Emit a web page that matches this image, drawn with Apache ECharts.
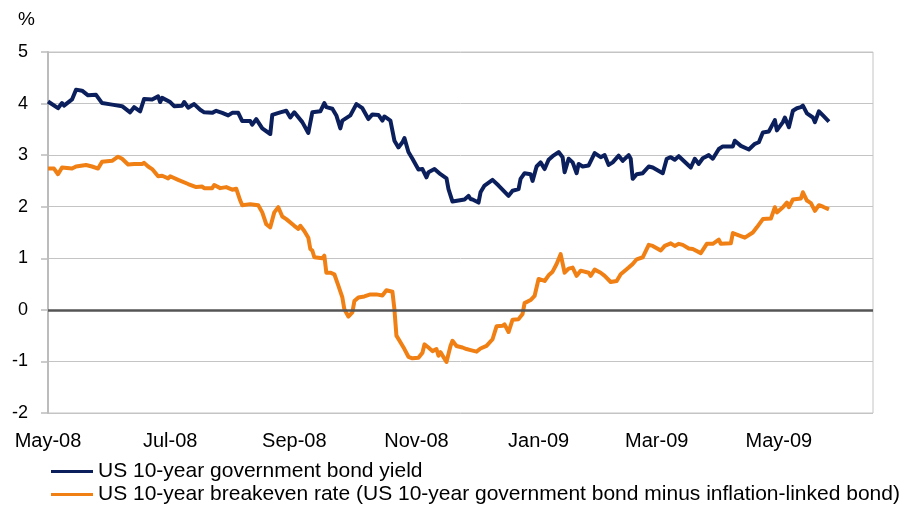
<!DOCTYPE html>
<html>
<head>
<meta charset="utf-8">
<script src="https://cdn.jsdelivr.net/npm/echarts@6/dist/echarts.min.js"></script>
<style>
  html, body { margin: 0; padding: 0; background: #fff; }
  #chart { width: 913px; height: 507px; }
</style>
</head>
<body>
<div id="chart"></div>
<script>
// US 10-year government bond yield, %
const yieldDates = [
  '2008-05-01','2008-05-06','2008-05-08','2008-05-09','2008-05-13','2008-05-15','2008-05-18','2008-05-21',
  '2008-05-25','2008-05-28','2008-06-02','2008-06-07','2008-06-11','2008-06-13','2008-06-16','2008-06-18',
  '2008-06-22','2008-06-25','2008-06-26','2008-06-27','2008-07-01','2008-07-03','2008-07-07','2008-07-08',
  '2008-07-10','2008-07-13','2008-07-16','2008-07-18','2008-07-22','2008-07-24','2008-07-27','2008-07-30',
  '2008-08-01','2008-08-04','2008-08-06','2008-08-10','2008-08-11','2008-08-13','2008-08-16','2008-08-20',
  '2008-08-21','2008-08-25','2008-08-28','2008-08-30','2008-09-01','2008-09-05','2008-09-08','2008-09-10',
  '2008-09-14','2008-09-16','2008-09-17','2008-09-20','2008-09-22','2008-09-24','2008-09-25','2008-09-29',
  '2008-10-02','2008-10-05','2008-10-08','2008-10-10','2008-10-13','2008-10-15','2008-10-16','2008-10-19',
  '2008-10-21','2008-10-23','2008-10-25','2008-10-26','2008-10-28','2008-10-30','2008-11-02','2008-11-04',
  '2008-11-06','2008-11-07','2008-11-10','2008-11-13','2008-11-16','2008-11-17','2008-11-19','2008-11-22',
  '2008-11-25','2008-11-27','2008-11-28','2008-11-29','2008-12-02','2008-12-03','2008-12-05','2008-12-09',
  '2008-12-12','2008-12-17','2008-12-19','2008-12-22','2008-12-23','2008-12-25','2008-12-28','2008-12-29',
  '2008-12-31','2009-01-02','2009-01-04','2009-01-06','2009-01-08','2009-01-11','2009-01-13','2009-01-14',
  '2009-01-16','2009-01-18','2009-01-20','2009-01-21','2009-01-23','2009-01-26','2009-01-29','2009-02-01',
  '2009-02-03','2009-02-05','2009-02-07','2009-02-10','2009-02-12','2009-02-15','2009-02-16','2009-02-17',
  '2009-02-19','2009-02-22','2009-02-25','2009-02-27','2009-03-04','2009-03-06','2009-03-08','2009-03-10',
  '2009-03-12','2009-03-18','2009-03-20','2009-03-22','2009-03-24','2009-03-27','2009-03-29','2009-04-01',
  '2009-04-03','2009-04-08','2009-04-09','2009-04-12','2009-04-16','2009-04-19','2009-04-21','2009-04-23',
  '2009-04-26','2009-04-29','2009-04-30','2009-05-03','2009-05-04','2009-05-06','2009-05-08','2009-05-10',
  '2009-05-12','2009-05-13','2009-05-15','2009-05-18','2009-05-19','2009-05-21','2009-05-23','2009-05-26'
];
const yieldValues = [
  4.04, 3.91, 4.01, 3.96, 4.08, 4.27, 4.25, 4.16,
  4.17, 4.01, 3.98, 3.95, 3.83, 3.93, 3.85, 4.09,
  4.08, 4.14, 4.03, 4.11, 4.03, 3.95, 3.96, 4.03,
  3.92, 3.99, 3.88, 3.83, 3.82, 3.86, 3.82, 3.77,
  3.82, 3.82, 3.66, 3.66, 3.59, 3.70, 3.52, 3.41,
  3.78, 3.83, 3.86, 3.73, 3.83, 3.64, 3.43, 3.83,
  3.85, 4.01, 3.93, 3.90, 3.77, 3.52, 3.67, 3.77,
  3.99, 3.91, 3.70, 3.79, 3.78, 3.67, 3.75, 3.67,
  3.28, 3.15, 3.25, 3.33, 3.06, 2.93, 2.72, 2.73,
  2.57, 2.67, 2.73, 2.63, 2.55, 2.34, 2.10, 2.12,
  2.14, 2.21, 2.15, 2.14, 2.08, 2.28, 2.41, 2.52,
  2.41, 2.21, 2.31, 2.34, 2.54, 2.65, 2.63, 2.50,
  2.78, 2.86, 2.73, 2.91, 2.98, 3.06, 2.96, 2.67,
  2.93, 2.86, 2.65, 2.83, 2.78, 2.80, 3.04, 2.96,
  3.00, 2.81, 2.86, 2.99, 2.89, 3.00, 2.93, 2.54,
  2.63, 2.65, 2.78, 2.76, 2.65, 2.93, 2.96, 2.91,
  2.98, 2.76, 2.93, 2.83, 2.94, 3.00, 2.93, 3.12,
  3.17, 3.17, 3.28, 3.18, 3.11, 3.22, 3.25, 3.44,
  3.46, 3.68, 3.48, 3.64, 3.73, 3.54, 3.86, 3.91,
  3.93, 3.96, 3.81, 3.73, 3.64, 3.85, 3.77, 3.65
];

// US 10-year breakeven rate, %
const breakevenDates = [
  '2008-05-01','2008-05-04','2008-05-06','2008-05-08','2008-05-13','2008-05-15','2008-05-20','2008-05-23',
  '2008-05-26','2008-05-28','2008-06-02','2008-06-05','2008-06-07','2008-06-10','2008-06-13','2008-06-17',
  '2008-06-18','2008-06-20','2008-06-22','2008-06-25','2008-06-27','2008-06-30','2008-07-01','2008-07-05',
  '2008-07-10','2008-07-14','2008-07-17','2008-07-18','2008-07-22','2008-07-23','2008-07-26','2008-07-29',
  '2008-08-01','2008-08-03','2008-08-05','2008-08-06','2008-08-10','2008-08-12','2008-08-14','2008-08-16',
  '2008-08-18','2008-08-20','2008-08-22','2008-08-24','2008-08-26','2008-08-28','2008-09-01','2008-09-03',
  '2008-09-04','2008-09-06','2008-09-08','2008-09-09','2008-09-10','2008-09-11','2008-09-15','2008-09-16',
  '2008-09-17','2008-09-19','2008-09-21','2008-09-23','2008-09-25','2008-09-26','2008-09-28','2008-09-30',
  '2008-10-01','2008-10-03','2008-10-06','2008-10-09','2008-10-12','2008-10-15','2008-10-17','2008-10-20',
  '2008-10-21','2008-10-22','2008-10-24','2008-10-26','2008-10-28','2008-10-30','2008-11-02','2008-11-04',
  '2008-11-05','2008-11-07','2008-11-09','2008-11-11','2008-11-12','2008-11-13','2008-11-16','2008-11-18',
  '2008-11-19','2008-11-21','2008-11-24','2008-11-26','2008-11-28','2008-12-01','2008-12-03','2008-12-06',
  '2008-12-09','2008-12-11','2008-12-14','2008-12-15','2008-12-17','2008-12-19','2008-12-22','2008-12-24',
  '2008-12-25','2008-12-28','2008-12-30','2009-01-01','2009-01-04','2009-01-06','2009-01-08','2009-01-10',
  '2009-01-12','2009-01-14','2009-01-16','2009-01-18','2009-01-20','2009-01-22','2009-01-26','2009-01-27',
  '2009-01-29','2009-02-01','2009-02-03','2009-02-06','2009-02-09','2009-02-11','2009-02-15','2009-02-17',
  '2009-02-19','2009-02-22','2009-02-25','2009-02-27','2009-03-03','2009-03-05','2009-03-08','2009-03-10',
  '2009-03-12','2009-03-14','2009-03-17','2009-03-19','2009-03-23','2009-03-26','2009-03-29','2009-04-01',
  '2009-04-02','2009-04-07','2009-04-08','2009-04-14','2009-04-18','2009-04-20','2009-04-23','2009-04-27',
  '2009-04-29','2009-04-30','2009-05-03','2009-05-05','2009-05-06','2009-05-08','2009-05-12','2009-05-13',
  '2009-05-15','2009-05-17','2009-05-19','2009-05-21','2009-05-23','2009-05-26'
];
const breakevenValues = [
  2.74, 2.74, 2.63, 2.76, 2.74, 2.78, 2.81, 2.78,
  2.74, 2.87, 2.89, 2.97, 2.93, 2.82, 2.83, 2.83,
  2.85, 2.78, 2.73, 2.59, 2.60, 2.55, 2.59, 2.52,
  2.44, 2.38, 2.39, 2.36, 2.36, 2.42, 2.36, 2.38,
  2.33, 2.35, 2.12, 2.03, 2.05, 2.04, 2.03, 1.89,
  1.66, 1.60, 1.89, 1.99, 1.81, 1.76, 1.63, 1.57,
  1.63, 1.53, 1.40, 1.18, 1.15, 1.02, 1.00, 1.05,
  0.72, 0.72, 0.69, 0.47, 0.24, 0.01, -0.13, -0.05,
  0.17, 0.24, 0.26, 0.30, 0.30, 0.28, 0.38, 0.35,
  0.01, -0.50, -0.63, -0.76, -0.91, -0.94, -0.93, -0.83,
  -0.67, -0.73, -0.80, -0.76, -0.89, -0.82, -1.01, -0.70,
  -0.60, -0.70, -0.73, -0.76, -0.78, -0.81, -0.75, -0.70,
  -0.57, -0.32, -0.31, -0.28, -0.43, -0.19, -0.18, -0.08,
  0.13, 0.19, 0.27, 0.60, 0.56, 0.67, 0.74, 0.89,
  1.08, 0.72, 0.80, 0.82, 0.66, 0.76, 0.72, 0.66,
  0.78, 0.72, 0.66, 0.54, 0.56, 0.69, 0.82, 0.89,
  0.98, 1.02, 1.26, 1.24, 1.15, 1.24, 1.29, 1.24,
  1.28, 1.26, 1.19, 1.18, 1.10, 1.28, 1.28, 1.36,
  1.28, 1.29, 1.49, 1.40, 1.50, 1.60, 1.76, 1.77,
  1.99, 1.89, 1.99, 2.08, 1.99, 2.14, 2.16, 2.28,
  2.12, 2.07, 1.92, 2.03, 2.00, 1.95
];

// Date-axis labels every two months, and the value-axis ticks
const monthTicks = ['2008-05-01','2008-07-01','2008-09-01','2008-11-01','2009-01-01','2009-03-01','2009-05-01'];
const monthNames = ['Jan','Feb','Mar','Apr','May','Jun','Jul','Aug','Sep','Oct','Nov','Dec'];
const yTicks = [-2, -1, 0, 1, 2, 3, 4, 5];

const seriesNames = [
  'US 10-year government bond yield',
  'US 10-year breakeven rate (US 10-year government bond minus inflation-linked bond)'
];
const seriesColors = ['#0b1f5c', '#f07f14'];

const toTime = s => {
  const [y, m, d] = s.split('-').map(Number);
  return Date.UTC(y, m - 1, d);
};
const pairs = (dates, values) => dates.map((d, i) => [toTime(d), values[i]]);

const font = '"Liberation Sans", Arial, sans-serif';
const chart = echarts.init(document.getElementById('chart'), null, { renderer: 'canvas' });

// One legend row per series, stacked under the axis labels
const legendRow = (name, top) => ({
  left: 51,
  top: top,
  padding: 0,
  itemWidth: 42,
  itemHeight: 3,
  icon: 'rect',
  textStyle: { fontFamily: font, fontSize: 21, color: '#000' },
  data: [name]
});

chart.setOption({
  animation: false,
  backgroundColor: '#ffffff',
  title: {
    text: '%',
    left: 13,
    top: 5,
    textStyle: { fontFamily: font, fontSize: 19, fontWeight: 'normal', color: '#000' }
  },
  grid: {
    left: 48, right: 40, top: 52, bottom: 94,
    show: true, borderColor: '#c4c4c4', borderWidth: 1
  },
  legend: [legendRow(seriesNames[0], 461), legendRow(seriesNames[1], 484)],
  // Dates are plotted as UTC timestamps on a linear axis
  xAxis: {
    type: 'value',
    min: toTime('2008-05-01'),
    max: toTime('2009-06-17'),
    axisLine: { show: false },
    axisTick: { show: false },
    splitLine: { show: false },
    axisLabel: {
      customValues: monthTicks.map(toTime),
      margin: 18,
      fontFamily: font,
      fontSize: 20,
      color: '#000',
      formatter: v => {
        const d = new Date(v);
        return monthNames[d.getUTCMonth()] + '-' + String(d.getUTCFullYear() % 100).padStart(2, '0');
      }
    }
  },
  yAxis: {
    type: 'value',
    min: -2,
    max: 5,
    interval: 1,
    axisLine: { show: true, lineStyle: { color: '#bcbcbc', width: 2 } },
    axisTick: { show: true, inside: false, length: 7, lineStyle: { color: '#bcbcbc', width: 1.5 } },
    splitLine: { show: true, lineStyle: { color: '#c4c4c4', width: 1 } },
    axisLabel: {
      margin: 20,
      fontFamily: font,
      fontSize: 18,
      color: '#000',
      formatter: v => (yTicks.includes(v) ? String(v) : '')
    }
  },
  series: [
    {
      name: seriesNames[0],
      type: 'line',
      data: pairs(yieldDates, yieldValues),
      showSymbol: false,
      symbol: 'none',
      lineStyle: { color: seriesColors[0], width: 4, join: 'round' },
      itemStyle: { color: seriesColors[0] },
      z: 3
    },
    {
      name: seriesNames[1],
      type: 'line',
      data: pairs(breakevenDates, breakevenValues),
      showSymbol: false,
      symbol: 'none',
      lineStyle: { color: seriesColors[1], width: 4, join: 'round' },
      itemStyle: { color: seriesColors[1] },
      markLine: {
        silent: true,
        symbol: 'none',
        label: { show: false },
        lineStyle: { color: '#555555', width: 2.5, type: 'solid' },
        data: [{ yAxis: 0 }]
      },
      z: 3
    }
  ]
});
</script>
</body>
</html>
